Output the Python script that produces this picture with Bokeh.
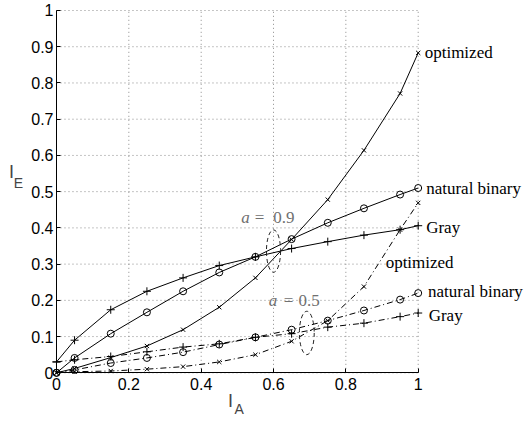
from bokeh.plotting import figure
from bokeh.models import Range1d, FixedTicker, Label, ColumnDataSource
from bokeh.embed import file_html
from bokeh.resources import INLINE

# ---- data ----
x_vals = [0, 0.05, 0.15, 0.25, 0.35, 0.45, 0.55, 0.65, 0.75, 0.85, 0.95, 1.0]

# a = 0.9 (solid lines)
gray_09 = [0.03, 0.09, 0.174, 0.225, 0.262, 0.296, 0.32, 0.343, 0.362, 0.38, 0.395, 0.406]
nb_09 = [0.0, 0.041, 0.108, 0.167, 0.225, 0.277, 0.32, 0.369, 0.414, 0.454, 0.492, 0.51]
opt_09 = [0.0, 0.012, 0.042, 0.074, 0.119, 0.181, 0.262, 0.368, 0.478, 0.614, 0.771, 0.883]

# a = 0.5 (dash-dot lines)
gray_05 = [0.03, 0.036, 0.045, 0.058, 0.071, 0.08, 0.098, 0.108, 0.126, 0.137, 0.155, 0.165]
nb_05 = [0.0, 0.008, 0.027, 0.041, 0.057, 0.078, 0.098, 0.119, 0.144, 0.172, 0.202, 0.22]
opt_05 = [0.0, 0.003, 0.005, 0.01, 0.017, 0.03, 0.05, 0.087, 0.144, 0.238, 0.395, 0.469]

x_ticks = [0, 0.2, 0.4, 0.6, 0.8, 1.0]
x_tick_labels = ["0", "0.2", "0.4", "0.6", "0.8", "1"]
y_ticks = [0, 0.1, 0.2, 0.3, 0.4, 0.5, 0.6, 0.7, 0.8, 0.9, 1.0]
y_tick_labels = ["0", "0.1", "0.2", "0.3", "0.4", "0.5", "0.6", "0.7", "0.8", "0.9", "1"]

# curve labels: (text, x, y)
curve_labels = [
    ("optimized", 1.018, 0.883),
    ("natural binary", 1.022, 0.508),
    ("Gray", 1.022, 0.402),
    ("optimized", 0.91, 0.304),
    ("natural binary", 1.027, 0.225),
    ("Gray", 1.029, 0.158),
]

# parameter annotations: ("a", "=", value, x_a, x_eq, x_val, y)
param_labels = [
    ("a", "=", "0.9", 0.511, 0.548, 0.599, 0.428),
    ("a", "=", "0.5", 0.587, 0.628, 0.669, 0.2),
]
# ellipses: (cx, cy, w, h)
ellipses_cx = [0.600, 0.692]
ellipses_cy = [0.336, 0.110]
ellipses_w = [0.039, 0.041]
ellipses_h = [0.117, 0.12]

# view extents (the frame covers the whole canvas; axes sit at 0)
X_VIEW = (-0.1548, 1.3022)
Y_VIEW = (-0.1344, 1.0276)

p = figure(width=527, height=421, output_backend="svg", toolbar_location=None,
           x_range=Range1d(*X_VIEW), y_range=Range1d(*Y_VIEW),
           min_border=0, min_border_left=0, min_border_right=0,
           min_border_top=0, min_border_bottom=0)
p.outline_line_color = None
p.background_fill_color = "white"
p.border_fill_color = "white"
p.xgrid.visible = False
p.ygrid.visible = False

for ax, ticks, labels in ((p.xaxis, x_ticks, x_tick_labels), (p.yaxis, y_ticks, y_tick_labels)):
    ax.fixed_location = 0
    ax.bounds = (0, 1)
    ax.ticker = FixedTicker(ticks=ticks)
    ax.major_label_overrides = {t: l for t, l in zip(ticks, labels)}
    ax.major_tick_in = 4
    ax.major_tick_out = 0
    ax.minor_tick_line_color = None
    ax.axis_line_color = "black"
    ax.major_tick_line_color = "black"
    ax.major_label_text_font = "Liberation Sans"
    ax.major_label_text_font_size = "16px"
    ax.major_label_text_color = "black"
p.xaxis.major_label_standoff = 5
p.yaxis.major_label_standoff = 3

# dotted grid lines over [0, 1]
nx, ny = len(x_ticks), len(y_ticks)
p.segment(x0=x_ticks, y0=[0] * nx, x1=x_ticks, y1=[1] * nx,
          line_color="#8a8a8a", line_dash="1 3", line_width=1)
p.segment(x0=[0] * ny, y0=y_ticks, x1=[1] * ny, y1=y_ticks,
          line_color="#8a8a8a", line_dash="1 3", line_width=1)

src = ColumnDataSource(dict(x=x_vals, g9=gray_09, n9=nb_09, o9=opt_09,
                            g5=gray_05, n5=nb_05, o5=opt_05))

for col, marker, size in (("g9", "cross", 8), ("n9", "circle", 7), ("o9", "x", 6)):
    p.line("x", col, source=src, line_color="black", line_width=1)
    p.scatter("x", col, source=src, marker=marker, size=size,
              line_color="black", fill_color=None, line_width=1)

for col, marker, size in (("g5", "cross", 8), ("n5", "circle", 7), ("o5", "x", 6)):
    p.line("x", col, source=src, line_color="black", line_width=1, line_dash="6 3 1 3")
    p.scatter("x", col, source=src, marker=marker, size=size,
              line_color="black", fill_color=None, line_width=1)

p.ellipse(x=ellipses_cx, y=ellipses_cy, width=ellipses_w, height=ellipses_h,
          fill_color=None, line_color="#222222", line_width=1, line_dash="4 3")

for text, lx, ly in curve_labels:
    p.add_layout(Label(x=lx, y=ly, text=text, text_font="Liberation Serif",
                       text_font_size="17px", text_baseline="middle",
                       text_align="left", text_color="black"))

for a, eq, val, xa, xe, xv, ly in param_labels:
    for t, xx, style in ((a, xa, "italic"), (eq, xe, "normal"), (val, xv, "normal")):
        p.add_layout(Label(x=xx, y=ly, text=t, text_font="Liberation Serif",
                           text_font_size="17px", text_font_style=style,
                           text_baseline="middle", text_align="left",
                           text_color="#707070"))

# axis labels with subscripts
p.add_layout(Label(x=-0.131, y=0.554, text="I", text_font="Liberation Sans",
                   text_font_size="18px", text_baseline="middle", text_align="left"))
p.add_layout(Label(x=-0.118, y=0.524, text="E", text_font="Liberation Sans",
                   text_font_size="14px", text_baseline="middle", text_align="left"))
p.add_layout(Label(x=0.474, y=-0.077, text="I", text_font="Liberation Sans",
                   text_font_size="18px", text_baseline="middle", text_align="left"))
p.add_layout(Label(x=0.492, y=-0.099, text="A", text_font="Liberation Sans",
                   text_font_size="14px", text_baseline="middle", text_align="left"))

open("out.html", "w").write(file_html(p, INLINE))
